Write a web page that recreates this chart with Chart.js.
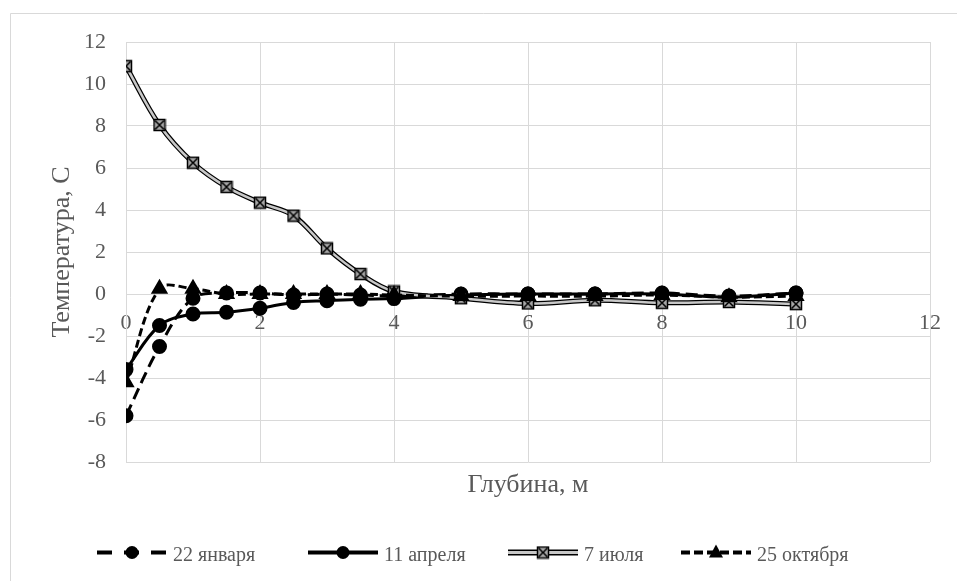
<!DOCTYPE html>
<html>
<head>
<meta charset="utf-8">
<script src="https://cdn.jsdelivr.net/npm/chart.js@4.4.1/dist/chart.umd.min.js"></script>
<style>
  body { margin: 0; background: #fff; }
  #box { width: 957px; height: 581px; }
</style>
</head>
<body>
<div id="box"><canvas id="temp-chart"></canvas></div>
<script>
// глубина, м
var depth = [0, 0.5, 1, 1.5, 2, 2.5, 3, 3.5, 4, 5, 6, 7, 8, 9, 10];
// температура, С
var jan = [-5.8, -2.5, -0.2, 0.05, 0.05, -0.05, 0, -0.05, -0.1, 0, 0, 0, 0.05, -0.1, 0.05];
var apr = [-3.6, -1.5, -0.95, -0.87, -0.68, -0.4, -0.32, -0.25, -0.22, -0.05, 0, 0, 0, -0.15, 0.05];
var jul = [10.85, 8.05, 6.25, 5.1, 4.35, 3.73, 2.17, 0.95, 0.12, -0.2, -0.45, -0.3, -0.42, -0.38, -0.48];
var oct = [-4.2, 0.25, 0.25, 0, 0, 0, 0, 0, -0.05, -0.1, -0.1, -0.1, -0.05, -0.15, -0.1];

var seriesNames = ['22 января', '11 апреля', '7 июля', '25 октября'];
var xTicks = [0, 2, 4, 6, 8, 10, 12];
var yTicks = [-8, -6, -4, -2, 0, 2, 4, 6, 8, 10, 12];

var grid = '#d9d9d9';
var textGray = '#595959';
var legendX = [97, 308, 508, 681];

function pts(ys) {
  return depth.map(function (d, i) { return { x: d, y: ys[i] }; });
}

// квадрат с крестом для 7 июля
function boxMarker() {
  var c = document.createElement('canvas');
  c.width = 14; c.height = 14;
  var g = c.getContext('2d');
  g.fillStyle = '#a6a6a6';
  g.fillRect(1, 1, 12, 12);
  g.strokeStyle = '#000';
  g.lineWidth = 1.5;
  g.strokeRect(1.5, 1.5, 11, 11);
  g.beginPath();
  g.moveTo(2.5, 2.5); g.lineTo(11.5, 11.5);
  g.moveTo(11.5, 2.5); g.lineTo(2.5, 11.5);
  g.stroke();
  return c;
}
var boxImg = boxMarker();

var extras = {
  id: 'extras',
  beforeDraw: function (chart) {
    var c = chart.ctx;
    c.save();
    c.fillStyle = '#fff';
    c.fillRect(0, 0, chart.width, chart.height);
    c.strokeStyle = grid;
    c.lineWidth = 1;
    c.beginPath();
    c.moveTo(10.5, chart.height);
    c.lineTo(10.5, 13.5);
    c.lineTo(chart.width, 13.5);
    c.stroke();
    c.restore();
  },
  afterDraw: function (chart) {
    var a = chart.chartArea, c = chart.ctx;
    c.save();
    c.fillStyle = textGray;
    c.font = '26px "Liberation Serif"';
    c.textAlign = 'center';
    c.textBaseline = 'alphabetic';
    c.fillText('Глубина, м', (a.left + a.right) / 2, 492);

    // легенда
    c.font = '20px "Liberation Serif"';
    var lineLen = 70, gapText = 6, y = 552.5;
    c.textAlign = 'left';
    for (var i = 0; i < seriesNames.length; i++) {
      var x = legendX[i];
      var mx = x + lineLen / 2;
      c.strokeStyle = '#000';
      c.lineWidth = 4;
      c.setLineDash(i === 0 ? [15, 12] : i === 3 ? [9, 4] : []);
      if (i === 2) {
        c.lineWidth = 6;
        c.beginPath(); c.moveTo(x, y); c.lineTo(x + lineLen, y); c.stroke();
        c.strokeStyle = '#c8c8c8';
        c.lineWidth = 3;
      }
      c.beginPath(); c.moveTo(x, y); c.lineTo(x + lineLen, y); c.stroke();
      c.setLineDash([]);
      c.fillStyle = '#000';
      if (i === 0 || i === 1) {
        c.beginPath(); c.arc(mx, y, 6.5, 0, Math.PI * 2); c.fill();
      } else if (i === 2) {
        c.drawImage(boxImg, mx - 7, y - 7);
      } else {
        c.beginPath(); c.moveTo(mx, y - 8); c.lineTo(mx + 7, y + 5); c.lineTo(mx - 7, y + 5); c.closePath(); c.fill();
      }
      c.fillStyle = textGray;
      c.fillText(seriesNames[i], x + lineLen + gapText, 561);
    }
    c.restore();
  }
};

Chart.defaults.font.family = '"Liberation Serif"';
Chart.defaults.color = textGray;

var ctx = document.getElementById('temp-chart').getContext('2d');
var tempChart = new Chart(ctx, {
  type: 'line',
  data: {
    datasets: [{
      label: seriesNames[0],
      data: pts(jan),
      borderColor: '#000',
      backgroundColor: '#000',
      borderWidth: 3,
      borderDash: [12, 6],
      pointStyle: 'circle',
      pointRadius: 6,
      tension: 0.35,
      order: 4
    }, {
      label: seriesNames[1],
      data: pts(apr),
      borderColor: '#000',
      backgroundColor: '#000',
      borderWidth: 3,
      pointStyle: 'circle',
      pointRadius: 6,
      tension: 0.35,
      order: 3
    }, {
      label: 'outline',
      data: pts(jul),
      borderColor: '#000',
      borderWidth: 5,
      pointRadius: 0,
      tension: 0.35,
      order: 2
    }, {
      label: seriesNames[2],
      data: pts(jul),
      borderColor: '#c8c8c8',
      borderWidth: 2.5,
      pointStyle: boxImg,
      pointRadius: 7,
      tension: 0.35,
      order: 1
    }, {
      label: seriesNames[3],
      data: pts(oct),
      borderColor: '#000',
      backgroundColor: '#000',
      borderWidth: 3,
      borderDash: [8, 4],
      pointStyle: 'triangle',
      pointRadius: 7,
      tension: 0.35,
      order: 0
    }]
  },
  options: {
    responsive: true,
    maintainAspectRatio: false,
    animation: false,
    layout: { padding: { left: 0, top: 42, right: 27, bottom: 119 } },
    plugins: {
      legend: { display: false },
      tooltip: { enabled: false }
    },
    scales: {
      x: {
        type: 'linear',
        position: { y: 0 },
        min: 0,
        max: 12,
        afterBuildTicks: function (s) { s.ticks = xTicks.map(function (v) { return { value: v }; }); },
        grid: { color: grid, drawTicks: false },
        border: { color: grid },
        ticks: { padding: 16, font: { size: 22 }, color: textGray }
      },
      y: {
        min: -8,
        max: 12,
        afterBuildTicks: function (s) { s.ticks = yTicks.map(function (v) { return { value: v }; }); },
        afterFit: function (s) { s.width = 126; },
        grid: { color: grid, drawTicks: false },
        border: { color: grid },
        ticks: { padding: 20, font: { size: 22 }, color: textGray },
        title: {
          display: true,
          text: 'Температура, С',
          font: { size: 26 },
          color: textGray,
          padding: { top: 47, bottom: 0 }
        }
      }
    }
  },
  plugins: [extras]
});
</script>
</body>
</html>
